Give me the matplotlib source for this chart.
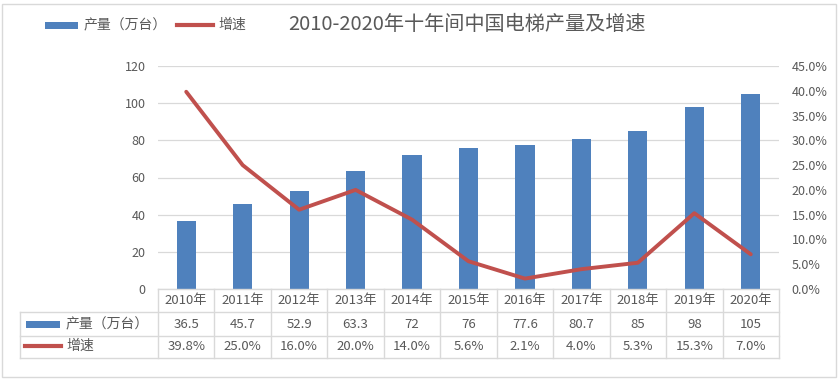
import matplotlib
matplotlib.use("Agg")
import matplotlib.pyplot as plt
from matplotlib.patches import Rectangle
from matplotlib.lines import Line2D
import numpy as np

plt.rcParams['font.family'] = ['Noto Sans CJK SC', 'DejaVu Sans']

years = ["2010年", "2011年", "2012年", "2013年", "2014年", "2015年",
         "2016年", "2017年", "2018年", "2019年", "2020年"]
output = [36.5, 45.7, 52.9, 63.3, 72, 76, 77.6, 80.7, 85, 98, 105]
output_labels = ["36.5", "45.7", "52.9", "63.3", "72", "76", "77.6", "80.7", "85", "98", "105"]
growth = [39.8, 25.0, 16.0, 20.0, 14.0, 5.6, 2.1, 4.0, 5.3, 15.3, 7.0]
series_names = ["产量（万台）", "增速"]
title = "2010-2020年十年间中国电梯产量及增速"

BLUE = "#4F81BD"
RED = "#C0504D"
TXT = "#595959"
GRID = "#D9D9D9"

W, H = 838, 379
fig = plt.figure(figsize=(W / 100, H / 100), dpi=100)

def fx(px):
    return px / W

def fy(py):
    return 1 - py / H

# outer border
fig.add_artist(Rectangle((fx(2), fy(377)), fx(834), 373 / H, transform=fig.transFigure,
                         fill=False, edgecolor=GRID, lw=1))

L, R, T, B = 158, 779, 66, 289
ax = fig.add_axes([fx(L), fy(B), fx(R - L), (B - T) / H])
x = np.arange(len(years))
ax.bar(x, output, width=0.34, color=BLUE, zorder=2)
ax.set_xlim(-0.5, len(years) - 0.5)
ax.set_ylim(0, 120)
ax.set_yticks(np.arange(0, 121, 20))
ax.yaxis.grid(True, color=GRID, lw=0.9, zorder=0)
ax.set_xticks([])
for s in ax.spines.values():
    s.set_visible(False)
ax.tick_params(axis='y', length=0, labelsize=9, labelcolor=TXT, pad=9)

ax2 = ax.twinx()
ax2.plot(x, growth, color=RED, lw=2.8, zorder=3, solid_capstyle='round')
ax2.set_ylim(0, 45)
ax2.set_yticks(np.arange(0, 46, 5))
ax2.set_yticklabels([f"{v:.1f}%" for v in np.arange(0, 46, 5)])
for s in ax2.spines.values():
    s.set_visible(False)
ax2.tick_params(axis='y', length=0, labelsize=9, labelcolor=TXT, pad=9)
ax2.set_xlim(-0.5, len(years) - 0.5)

# title
fig.text(fx(467), fy(24), title, ha='center', va='center', fontsize=14.5, color=TXT)

# top legend
fig.add_artist(Rectangle((fx(45), fy(29)), fx(33), 7 / H, transform=fig.transFigure,
                         color=BLUE, lw=0))
fig.text(fx(84), fy(25), series_names[0], ha='left', va='center', fontsize=10, color=TXT)
fig.add_artist(Line2D([fx(177), fx(213)], [fy(25), fy(25)], transform=fig.transFigure,
                      color=RED, lw=3))
fig.text(fx(218), fy(25), series_names[1], ha='left', va='center', fontsize=10, color=TXT)

# data table
rows_y = [289, 312, 336, 358]
n = len(years)
colw = (R - L) / n

def hline(x0, x1, y):
    fig.add_artist(Line2D([fx(x0), fx(x1)], [fy(y), fy(y)], transform=fig.transFigure,
                          color=GRID, lw=1))

def vline(xp, y0, y1):
    fig.add_artist(Line2D([fx(xp), fx(xp)], [fy(y0), fy(y1)], transform=fig.transFigure,
                          color=GRID, lw=1))

hline(L, R, rows_y[0])
for yy in rows_y[1:]:
    hline(20, R, yy)
vline(20, rows_y[1], rows_y[3])
for i in range(n + 1):
    vline(L + i * colw, rows_y[0], rows_y[3])

for i in range(n):
    cx = L + (i + 0.5) * colw
    fig.text(fx(cx), fy((rows_y[0] + rows_y[1]) / 2), years[i], ha='center', va='center',
             fontsize=9.5, color=TXT)
    fig.text(fx(cx), fy((rows_y[1] + rows_y[2]) / 2), output_labels[i], ha='center', va='center',
             fontsize=9.5, color=TXT)
    fig.text(fx(cx), fy((rows_y[2] + rows_y[3]) / 2), f"{growth[i]:.1f}%", ha='center', va='center',
             fontsize=9.5, color=TXT)

# table row labels
fig.add_artist(Rectangle((fx(26), fy(328)), fx(34), 7 / H, transform=fig.transFigure,
                         color=BLUE, lw=0))
fig.text(fx(66), fy(324), series_names[0], ha='left', va='center', fontsize=10, color=TXT)
fig.add_artist(Line2D([fx(25), fx(61)], [fy(346), fy(346)], transform=fig.transFigure,
                      color=RED, lw=3))
fig.text(fx(66), fy(346), series_names[1], ha='left', va='center', fontsize=10, color=TXT)

fig.savefig("out.png", dpi=100)
